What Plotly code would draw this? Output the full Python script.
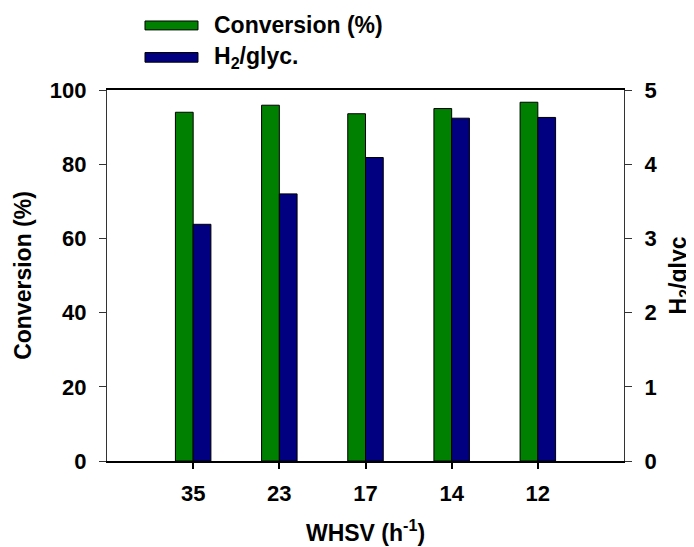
import plotly.graph_objects as go

categories = ["35", "23", "17", "14", "12"]
conversion = [94.0, 95.9, 93.6, 95.0, 96.7]
h2_glyc = [3.19, 3.60, 4.09, 4.62, 4.63]
series_names = ["Conversion (%)", "H<sub>2</sub>/glyc."]
series_colors = ["#008000", "#000080"]
y1_ticks = [0, 20, 40, 60, 80, 100]
y2_ticks = [0, 1, 2, 3, 4, 5]

FONT = "Liberation Sans, Arial, sans-serif"
BW = 0.206

fig = go.Figure()
fig.add_trace(go.Bar(x=categories, y=conversion, name=series_names[0],
                     marker=dict(color=series_colors[0], line=dict(color="black", width=1)),
                     width=BW, offset=-BW, yaxis="y", showlegend=False))
fig.add_trace(go.Bar(x=categories, y=h2_glyc, name=series_names[1],
                     marker=dict(color=series_colors[1], line=dict(color="black", width=1)),
                     width=BW, offset=0, yaxis="y2", showlegend=False))

tickfont = dict(family=FONT, size=22, color="black", weight="bold")
titlefont = dict(family=FONT, size=23, color="black", weight="bold")

# the page has an 8px body margin, so the figure is sized/offset to compensate
fig.update_layout(
    width=686, height=539,
    margin=dict(l=99, r=70, t=82, b=86),
    paper_bgcolor="white", plot_bgcolor="white",
    barmode="overlay",
    xaxis=dict(type="category", range=[-1, 5], showline=True, linecolor="black", linewidth=2,
               mirror=True, ticks="outside", ticklen=6, tickwidth=1.5, tickcolor="black",
               showgrid=False, tickfont=tickfont, ticklabelstandoff=6, automargin=False,
               title=dict(text="WHSV (h<sup>-1</sup>)", font=titlefont, standoff=19)),
    yaxis=dict(range=[0, 100], tickvals=y1_ticks, showline=True, linecolor="#333", linewidth=1.2,
               ticks="outside", ticklen=7, tickwidth=1.2, tickcolor="#333", showgrid=False,
               zeroline=False, tickfont=tickfont, ticklabelstandoff=8, automargin=False,
               title=dict(text="Conversion (%)", font=titlefont, standoff=11)),
    yaxis2=dict(range=[0, 5], tickvals=y2_ticks, overlaying="y", side="right", showline=True,
                linecolor="#333", linewidth=1.2, ticks="outside", ticklen=7, tickwidth=1.2,
                tickcolor="#333", showgrid=False, zeroline=False, tickfont=tickfont,
                ticklabelstandoff=8, automargin=False,
                title=dict(text="H<sub>2</sub>/glyc", font=titlefont, standoff=16)),
)

# manual legend (wide swatches as in the reference)
leg_rows_y = [(1.162, 1.186), (1.075, 1.101)]
for name, color, (y0, y1) in zip(series_names, series_colors, leg_rows_y):
    fig.add_shape(type="rect", xref="paper", yref="paper", x0=0.0735, x1=0.176, y0=y0, y1=y1,
                  fillcolor=color, line=dict(color="black", width=1))
    fig.add_annotation(xref="paper", yref="paper", x=0.203, y=(y0 + y1) / 2, text=name,
                       showarrow=False, xanchor="left", yanchor="middle", font=titlefont)

fig.write_html("out.html")
